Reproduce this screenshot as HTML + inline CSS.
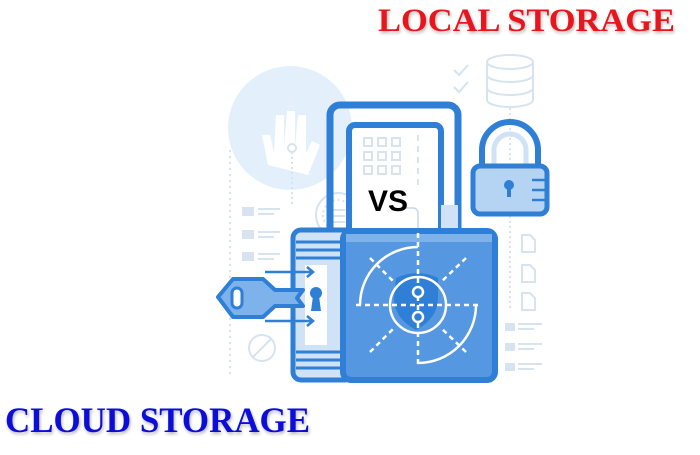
<!DOCTYPE html>
<html><head><style>html,body{margin:0;padding:0;background:#fff;width:700px;height:455px;overflow:hidden}</style></head>
<body>
<svg width="700" height="455" viewBox="0 0 700 455" xmlns="http://www.w3.org/2000/svg">
<defs>
<filter id="sh" x="-10%" y="-30%" width="120%" height="160%"><feGaussianBlur in="SourceAlpha" stdDeviation="1.5"/><feOffset dx="1" dy="2"/><feComponentTransfer><feFuncA type="linear" slope="0.3"/></feComponentTransfer><feMerge><feMergeNode/><feMergeNode in="SourceGraphic"/></feMerge></filter>
</defs>
<circle cx="290" cy="128" r="62" fill="#e3f0fb"/>
<path d="M268 165 l-6-30 l8 0 l4 18 l2-38 l8 0 l0 32 l3-36 l8 0 l0 36 l3-32 l8 0 l0 38 l6-12 l8 4 l-12 30 z" fill="#fff"/>
<line x1="230" y1="150" x2="230" y2="378" stroke="#d7e3ef" stroke-width="2" stroke-dasharray="2 4"/>
<g fill="#d7e3ef"><rect x="242" y="207" width="12" height="9"/><rect x="258" y="208" width="22" height="2"/><rect x="258" y="213" width="16" height="2"/>
<rect x="242" y="230" width="12" height="9"/><rect x="258" y="231" width="22" height="2"/><rect x="258" y="236" width="16" height="2"/>
<rect x="242" y="252" width="12" height="9"/><rect x="258" y="253" width="22" height="2"/><rect x="258" y="258" width="16" height="2"/>
<rect x="505" y="323" width="10" height="8"/><rect x="518" y="323" width="24" height="2"/><rect x="518" y="328" width="16" height="2"/>
<rect x="505" y="343" width="10" height="8"/><rect x="518" y="343" width="24" height="2"/><rect x="518" y="348" width="16" height="2"/>
<rect x="505" y="363" width="10" height="8"/><rect x="518" y="363" width="24" height="2"/><rect x="518" y="368" width="16" height="2"/></g>
<g fill="none" stroke="#d7e3ef" stroke-width="2">
<path d="M522 235 h8 l5 5 v12 h-13z M522 265 h8 l5 5 v12 h-13z M522 293 h8 l5 5 v12 h-13z"/>
<circle cx="262" cy="348" r="13"/><line x1="253" y1="357" x2="271" y2="339"/>
<ellipse cx="510" cy="62" rx="23" ry="7"/><path d="M487 62 v38 a23 7 0 0 0 46 0 v-38 M487 75 a23 7 0 0 0 46 0 M487 88 a23 7 0 0 0 46 0"/>
<path d="M454 70 l5 5 l9 -10 M454 87 l5 5 l9 -10"/>
<line x1="510" y1="108" x2="510" y2="160" stroke-dasharray="2 3"/>
<line x1="510" y1="216" x2="510" y2="310" stroke-dasharray="2 3"/>
<circle cx="292" cy="148" r="4"/><line x1="292" y1="152" x2="292" y2="205" stroke-dasharray="2 3"/>
<circle cx="338" cy="215" r="22"/><circle cx="338" cy="215" r="15" stroke-dasharray="2 3"/>
<path d="M331 210h14M331 216h14M331 222h14"/>
</g>
<rect x="330" y="105" width="128" height="140" rx="10" fill="none" stroke="#2f7fd6" stroke-width="7"/>
<rect x="349" y="125" width="92" height="120" rx="6" fill="#fff" stroke="#2f7fd6" stroke-width="6"/>
<g fill="none" stroke="#d7e3ef" stroke-width="2">
<rect x="364" y="138" width="8" height="8"/><rect x="378" y="138" width="8" height="8"/><rect x="392" y="138" width="8" height="8"/>
<rect x="364" y="152" width="8" height="8"/><rect x="378" y="152" width="8" height="8"/><rect x="392" y="152" width="8" height="8"/>
<rect x="364" y="166" width="8" height="8"/><rect x="378" y="166" width="8" height="8"/><rect x="392" y="166" width="8" height="8"/>
<line x1="418" y1="135" x2="418" y2="190" stroke-dasharray="6 5"/></g>
<path d="M405 208 h8 a5 5 0 0 1 5 5 v20" fill="none" stroke="#c9d7e6" stroke-width="1.5"/>
<rect x="441" y="205" width="17" height="25" fill="#cfe2f6"/>
<rect x="293" y="230" width="60" height="150" rx="8" fill="#cfe2f6" stroke="#2f7fd6" stroke-width="5"/>
<g stroke="#2f7fd6" stroke-width="3"><line x1="296" y1="242" x2="345" y2="242"/><line x1="296" y1="250" x2="345" y2="250"/><line x1="296" y1="258" x2="345" y2="258"/><line x1="296" y1="352" x2="345" y2="352"/><line x1="296" y1="360" x2="345" y2="360"/><line x1="296" y1="368" x2="345" y2="368"/></g>
<rect x="305" y="265" width="22" height="80" fill="#fff"/>
<circle cx="316" cy="293" r="6" fill="#2f7fd6"/><path d="M313 296 h6 l2 15 h-10z" fill="#2f7fd6"/>
<g stroke="#2f7fd6" stroke-width="2.5" fill="none"><path d="M265 272 h48 M307 267 l6 5 -6 5 M265 321 h48 M307 316 l6 5 -6 5"/></g>
<rect x="343" y="231" width="152" height="149" rx="8" fill="#5597e0" stroke="#2f7fd6" stroke-width="6"/>
<rect x="346" y="234" width="146" height="8" fill="#7eb2ea"/>
<path d="M360 305 a58 58 0 0 1 58 -58" fill="none" stroke="#fff" stroke-width="2.5"/>
<path d="M418 363 a58 58 0 0 0 58 -58" fill="none" stroke="#fff" stroke-width="2.5"/>
<path d="M396 278 q22 -10 42 0 v20 q0 20 -22 32 q-22 -12 -22 -32z" fill="#2f7fd6"/>
<circle cx="418" cy="305" r="28" fill="none" stroke="#fff" stroke-width="2.5"/>
<g stroke="#fff" stroke-width="2.5" stroke-dasharray="5 4" fill="none">
<line x1="356" y1="305" x2="478" y2="305"/><line x1="418" y1="233" x2="418" y2="368"/>
<line x1="370" y1="258" x2="395" y2="283"/><line x1="466" y1="258" x2="440" y2="283"/>
<line x1="370" y1="352" x2="395" y2="327"/><line x1="466" y1="352" x2="440" y2="327"/></g>
<circle cx="418" cy="292" r="5" fill="#2f7fd6" stroke="#fff" stroke-width="2.5"/>
<circle cx="418" cy="317" r="5" fill="#2f7fd6" stroke="#fff" stroke-width="2.5"/>
<path d="M218 297 l15 -18 h30 l12 11 h28 l-6 8 l6 8 h-28 l-12 11 h-30z" fill="#7eb2ea" stroke="#2f7fd6" stroke-width="4" stroke-linejoin="round"/>
<rect x="232" y="288" width="10" height="20" rx="5" fill="#fff" stroke="#2f7fd6" stroke-width="3"/>
<path d="M482 168 v-18 a28 28 0 0 1 56 0 v18" fill="none" stroke="#2f7fd6" stroke-width="6"/>
<path d="M494 168 v-18 a16 16 0 0 1 32 0 v18" fill="none" stroke="#cfe2f6" stroke-width="5"/>
<rect x="473" y="166" width="74" height="48" rx="7" fill="#b5d3f3" stroke="#2f7fd6" stroke-width="5"/>
<circle cx="509" cy="185" r="5" fill="#2f7fd6"/><rect x="507" y="187" width="4" height="10" fill="#2f7fd6"/>
<g stroke="#2f7fd6" stroke-width="2.5"><line x1="532" y1="180" x2="545" y2="180"/><line x1="532" y1="190" x2="545" y2="190"/><line x1="532" y1="200" x2="545" y2="200"/></g>
<text x="368" y="211" font-family="Liberation Sans, sans-serif" font-weight="bold" font-size="30" fill="#000">VS</text>
<text x="378" y="31" textLength="297" lengthAdjust="spacingAndGlyphs" font-family="Liberation Serif, serif" font-weight="bold" font-size="33" fill="#e8171c" filter="url(#sh)">LOCAL STORAGE</text>
<text x="5" y="432" textLength="305" lengthAdjust="spacingAndGlyphs" font-family="Liberation Serif, serif" font-weight="bold" font-size="36" fill="#0a0ad8" filter="url(#sh)">CLOUD STORAGE</text>
</svg>
</body></html>
